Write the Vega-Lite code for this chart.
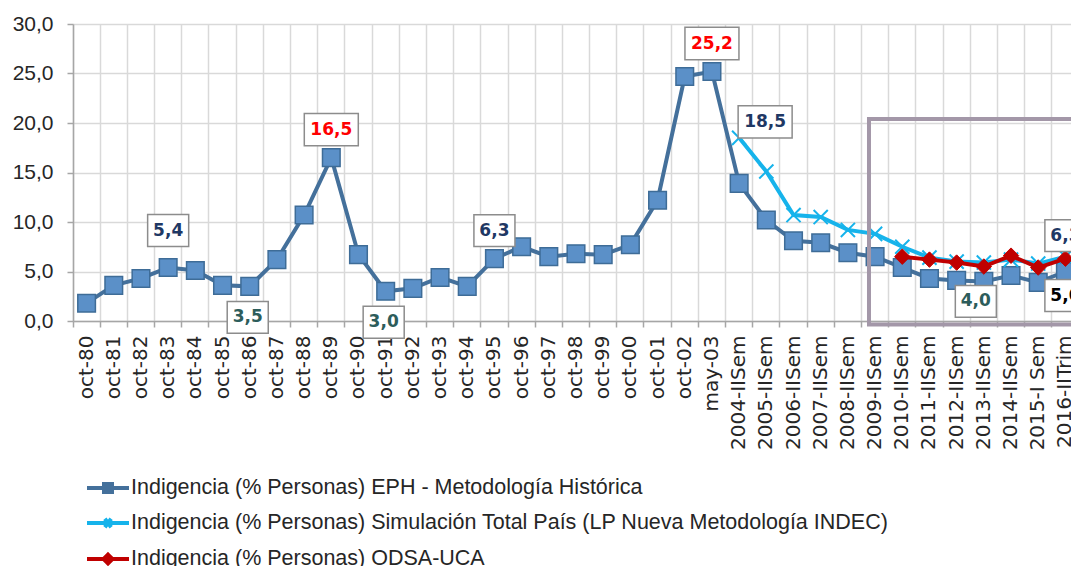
{
  "$schema": "https://vega.github.io/schema/vega-lite/v6.json",
  "width": 998,
  "height": 297,
  "autosize": {"type": "none"},
  "padding": {"left": 73, "top": 24, "right": 0, "bottom": 245},
  "config": {
    "view": {"stroke": null},
    "locale": {"number": {"decimal": ",", "thousands": ".", "grouping": [3], "currency": ["", " €"]}},
    "font": "Liberation Sans"
  },
  "datasets": {
    "ind": [
      {"cat": "oct-80", "serie": "EPH", "v": 1.8},
      {"cat": "oct-81", "serie": "EPH", "v": 3.6},
      {"cat": "oct-82", "serie": "EPH", "v": 4.3},
      {"cat": "oct-83", "serie": "EPH", "v": 5.4},
      {"cat": "oct-84", "serie": "EPH", "v": 5.1},
      {"cat": "oct-85", "serie": "EPH", "v": 3.6},
      {"cat": "oct-86", "serie": "EPH", "v": 3.5},
      {"cat": "oct-87", "serie": "EPH", "v": 6.2},
      {"cat": "oct-88", "serie": "EPH", "v": 10.7},
      {"cat": "oct-89", "serie": "EPH", "v": 16.5},
      {"cat": "oct-90", "serie": "EPH", "v": 6.7},
      {"cat": "oct-91", "serie": "EPH", "v": 3.0},
      {"cat": "oct-92", "serie": "EPH", "v": 3.3},
      {"cat": "oct-93", "serie": "EPH", "v": 4.4},
      {"cat": "oct-94", "serie": "EPH", "v": 3.5},
      {"cat": "oct-95", "serie": "EPH", "v": 6.3},
      {"cat": "oct-96", "serie": "EPH", "v": 7.5},
      {"cat": "oct-97", "serie": "EPH", "v": 6.5},
      {"cat": "oct-98", "serie": "EPH", "v": 6.8},
      {"cat": "oct-99", "serie": "EPH", "v": 6.7},
      {"cat": "oct-00", "serie": "EPH", "v": 7.7},
      {"cat": "oct-01", "serie": "EPH", "v": 12.2},
      {"cat": "oct-02", "serie": "EPH", "v": 24.7},
      {"cat": "may-03", "serie": "EPH", "v": 25.2},
      {"cat": "2004-IISem", "serie": "EPH", "v": 13.9},
      {"cat": "2005-IISem", "serie": "EPH", "v": 10.2},
      {"cat": "2006-IISem", "serie": "EPH", "v": 8.1},
      {"cat": "2007-IISem", "serie": "EPH", "v": 7.9},
      {"cat": "2008-IISem", "serie": "EPH", "v": 6.9},
      {"cat": "2009-IISem", "serie": "EPH", "v": 6.5},
      {"cat": "2010-IISem", "serie": "EPH", "v": 5.4},
      {"cat": "2011-IISem", "serie": "EPH", "v": 4.3},
      {"cat": "2012-IISem", "serie": "EPH", "v": 4.1},
      {"cat": "2013-IISem", "serie": "EPH", "v": 4.0},
      {"cat": "2014-IISem", "serie": "EPH", "v": 4.6},
      {"cat": "2015-I Sem", "serie": "EPH", "v": 3.9},
      {"cat": "2016-IITrim", "serie": "EPH", "v": 5.0},
      {"cat": "2004-IISem", "serie": "SIM", "v": 18.5},
      {"cat": "2005-IISem", "serie": "SIM", "v": 15.1},
      {"cat": "2006-IISem", "serie": "SIM", "v": 10.7},
      {"cat": "2007-IISem", "serie": "SIM", "v": 10.5},
      {"cat": "2008-IISem", "serie": "SIM", "v": 9.2},
      {"cat": "2009-IISem", "serie": "SIM", "v": 8.8},
      {"cat": "2010-IISem", "serie": "SIM", "v": 7.5},
      {"cat": "2011-IISem", "serie": "SIM", "v": 6.4},
      {"cat": "2012-IISem", "serie": "SIM", "v": 6.0},
      {"cat": "2013-IISem", "serie": "SIM", "v": 5.9},
      {"cat": "2014-IISem", "serie": "SIM", "v": 6.2},
      {"cat": "2015-I Sem", "serie": "SIM", "v": 5.8},
      {"cat": "2016-IITrim", "serie": "SIM", "v": 6.5},
      {"cat": "2010-IISem", "serie": "ODSA", "v": 6.5},
      {"cat": "2011-IISem", "serie": "ODSA", "v": 6.2},
      {"cat": "2012-IISem", "serie": "ODSA", "v": 5.9},
      {"cat": "2013-IISem", "serie": "ODSA", "v": 5.5},
      {"cat": "2014-IISem", "serie": "ODSA", "v": 6.6},
      {"cat": "2015-I Sem", "serie": "ODSA", "v": 5.4},
      {"cat": "2016-IITrim", "serie": "ODSA", "v": 6.3}
    ],
    "etiquetas": [
      {"cat": "oct-83", "serie": "EPH", "v": 5.4, "label": "5,4"},
      {"cat": "oct-86", "serie": "EPH", "v": 3.5, "label": "3,5"},
      {"cat": "oct-89", "serie": "EPH", "v": 16.5, "label": "16,5"},
      {"cat": "oct-91", "serie": "EPH", "v": 3.0, "label": "3,0"},
      {"cat": "oct-95", "serie": "EPH", "v": 6.3, "label": "6,3"},
      {"cat": "may-03", "serie": "EPH", "v": 25.2, "label": "25,2"},
      {"cat": "2004-IISem", "serie": "SIM", "v": 18.5, "label": "18,5"},
      {"cat": "2013-IISem", "serie": "EPH", "v": 4.0, "label": "4,0"},
      {"cat": "2016-IITrim", "serie": "ODSA", "v": 6.3, "label": "6,3"},
      {"cat": "2016-IITrim", "serie": "EPH", "v": 5.0, "label": "5,0"}
    ],
    "recuadro": [
      {"desde": "2009-IISem", "hasta": "2016-IITrim", "sup": 20.4, "inf": -0.35}
    ]
  },
  "layer": [
    {
      "data": {"name": "ind"},
      "transform": [{"filter": "datum.serie == 'EPH'"}],
      "mark": {"type": "line", "strokeWidth": 4},
      "encoding": {
        "x": {
          "field": "cat", "type": "nominal",
          "scale": {
            "domain": ["oct-80","oct-81","oct-82","oct-83","oct-84","oct-85","oct-86","oct-87","oct-88","oct-89","oct-90","oct-91","oct-92","oct-93","oct-94","oct-95","oct-96","oct-97","oct-98","oct-99","oct-00","oct-01","oct-02","may-03","2004-IISem","2005-IISem","2006-IISem","2007-IISem","2008-IISem","2009-IISem","2010-IISem","2011-IISem","2012-IISem","2013-IISem","2014-IISem","2015-I Sem","2016-IITrim"],
            "range": [0, 1006],
            "paddingInner": 0,
            "paddingOuter": 0
          },
          "axis": {
            "title": null,
            "bandPosition": 0,
            "labelOffset": 0,
            "labelAngle": -90,
            "labelFont": "DejaVu Sans",
            "labelFontSize": 20,
            "labelColor": "#262626",
            "labelPadding": 8,
            "labelOverlap": false,
            "labelBound": false,
            "tickSize": 6,
            "tickColor": "#a6a6a6",
            "tickWidth": 1.5,
            "domainColor": "#a6a6a6",
            "domainWidth": 1.5,
            "grid": true,
            "gridColor": "#d9d9d9",
            "gridWidth": 1.5
          }
        },
        "y": {
          "field": "v", "type": "quantitative",
          "scale": {"domain": [0, 30], "nice": false},
          "axis": {
            "title": null,
            "values": [0, 5, 10, 15, 20, 25, 30],
            "format": ".1f",
            "labelFont": "Liberation Sans",
            "labelFontSize": 21,
            "labelColor": "#262626",
            "labelPadding": 14,
            "tickSize": 6,
            "tickColor": "#a6a6a6",
            "tickWidth": 1.5,
            "domainColor": "#a6a6a6",
            "domainWidth": 1.5,
            "gridColor": "#d9d9d9",
            "gridWidth": 1.5
          }
        },
        "color": {
          "field": "serie", "type": "nominal",
          "scale": {"domain": ["EPH", "SIM", "ODSA"], "range": ["#44709b", "#16b3eb", "#c00000"]},
          "legend": {
            "orient": "none",
            "legendX": 12,
            "legendY": 441,
            "direction": "vertical",
            "title": null,
            "padding": 0,
            "labelFont": "Liberation Sans",
            "labelFontSize": 21.5,
            "labelColor": "#262626",
            "labelLimit": 1000,
            "labelOffset": 0,
            "symbolOffset": 0,
            "rowPadding": -12,
            "symbolSize": 1764,
            "symbolStrokeWidth": 4,
            "labelExpr": "datum.value == 'EPH' ? 'Indigencia (% Personas) EPH - Metodología Histórica' : datum.value == 'SIM' ? 'Indigencia (% Personas) Simulación Total País (LP Nueva Metodología INDEC)' : 'Indigencia (% Personas) ODSA-UCA'",
            "encode": {
              "symbols": {
                "update": {
                  "shape": {"signal": "datum.value == 'EPH' ? 'M-1,0H1M-0.19,-0.19H0.19V0.19H-0.19Z' : datum.value == 'SIM' ? 'M-1,0H1M-0.15,-0.2L0.15,0.2M-0.15,0.2L0.15,-0.2' : 'M-1,0H1M0,-0.21L0.21,0L0,0.21L-0.21,0Z'"},
                  "fill": {"signal": "datum.value == 'EPH' ? '#5b90c8' : datum.value == 'SIM' ? 'transparent' : '#c00000'"}
                }
              }
            }
          }
        }
      }
    },
    {
      "data": {"name": "ind"},
      "transform": [{"filter": "datum.serie == 'EPH'"}],
      "mark": {"type": "point", "shape": "square", "size": 310, "filled": true, "fill": "#5b90c8", "stroke": "#3e6c97", "strokeWidth": 1.5, "opacity": 1},
      "encoding": {
        "x": {"field": "cat", "type": "nominal"},
        "y": {"field": "v", "type": "quantitative"}
      }
    },
    {
      "data": {"name": "ind"},
      "transform": [{"filter": "datum.serie == 'SIM'"}],
      "mark": {"type": "line", "strokeWidth": 4},
      "encoding": {
        "x": {"field": "cat", "type": "nominal"},
        "y": {"field": "v", "type": "quantitative"},
        "color": {"field": "serie", "type": "nominal"}
      }
    },
    {
      "data": {"name": "ind"},
      "transform": [{"filter": "datum.serie == 'SIM'"}],
      "mark": {"type": "point", "shape": "M-1,-1L1,1M-1,1L1,-1", "size": 200, "filled": false, "stroke": "#16b3eb", "strokeWidth": 2, "opacity": 1},
      "encoding": {
        "x": {"field": "cat", "type": "nominal"},
        "y": {"field": "v", "type": "quantitative"}
      }
    },
    {
      "data": {"name": "ind"},
      "transform": [{"filter": "datum.serie == 'ODSA'"}],
      "mark": {"type": "line", "strokeWidth": 4},
      "encoding": {
        "x": {"field": "cat", "type": "nominal"},
        "y": {"field": "v", "type": "quantitative"},
        "color": {"field": "serie", "type": "nominal"}
      }
    },
    {
      "data": {"name": "ind"},
      "transform": [{"filter": "datum.serie == 'ODSA'"}],
      "mark": {"type": "point", "shape": "diamond", "size": 240, "filled": true, "fill": "#c00000", "stroke": "#c00000", "strokeWidth": 1, "opacity": 1},
      "encoding": {
        "x": {"field": "cat", "type": "nominal"},
        "y": {"field": "v", "type": "quantitative"}
      }
    },
    {
      "data": {"name": "recuadro"},
      "mark": {"type": "rect", "filled": false, "stroke": "#a397a8", "strokeWidth": 4, "xOffset": 7.5, "x2Offset": 27},
      "encoding": {
        "x": {"field": "desde", "type": "nominal", "bandPosition": 0},
        "x2": {"field": "hasta"},
        "y": {"field": "sup", "type": "quantitative"},
        "y2": {"field": "inf"}
      }
    },
    {
      "data": {"name": "etiquetas"},
      "transform": [{"filter": "datum.cat == 'oct-89' || datum.cat == 'oct-95' || datum.cat == 'may-03'"}],
      "mark": {"type": "point", "filled": true, "fill": "white", "stroke": "#8c8c8c", "strokeWidth": 1.5, "size": 2916, "opacity": 1, "yOffset": -28},
      "encoding": {
        "x": {"field": "cat", "type": "nominal"},
        "y": {"field": "v", "type": "quantitative"},
        "shape": {"condition": {"test": "length(datum.label) > 3", "value": "M-1,-0.6H1V0.6H-1Z"}, "value": "M-0.76,-0.59H0.76V0.59H-0.76Z"}
      }
    },
    {
      "data": {"name": "etiquetas"},
      "transform": [{"filter": "datum.cat == 'oct-89' || datum.cat == 'oct-95' || datum.cat == 'may-03'"}],
      "mark": {"type": "text", "font": "DejaVu Sans", "fontWeight": "bold", "fontSize": 17, "baseline": "middle", "align": "center", "yOffset": -28},
      "encoding": {
        "x": {"field": "cat", "type": "nominal"},
        "y": {"field": "v", "type": "quantitative"},
        "text": {"field": "label"},
        "color": {"condition": [{"test": "datum.label == '16,5' || datum.label == '25,2'", "value": "#ff0000"}], "value": "#1f3864"}
      }
    },
    {
      "data": {"name": "etiquetas"},
      "transform": [{"filter": "datum.cat == 'oct-83'"}],
      "mark": {"type": "point", "filled": true, "fill": "white", "stroke": "#8c8c8c", "strokeWidth": 1.5, "size": 2916, "opacity": 1, "yOffset": -37},
      "encoding": {
        "x": {"field": "cat", "type": "nominal"},
        "y": {"field": "v", "type": "quantitative"},
        "shape": {"condition": {"test": "length(datum.label) > 3", "value": "M-1,-0.6H1V0.6H-1Z"}, "value": "M-0.76,-0.59H0.76V0.59H-0.76Z"}
      }
    },
    {
      "data": {"name": "etiquetas"},
      "transform": [{"filter": "datum.cat == 'oct-83'"}],
      "mark": {"type": "text", "font": "DejaVu Sans", "fontWeight": "bold", "fontSize": 17, "baseline": "middle", "align": "center", "yOffset": -37},
      "encoding": {
        "x": {"field": "cat", "type": "nominal"},
        "y": {"field": "v", "type": "quantitative"},
        "text": {"field": "label"},
        "color": {"value": "#1f3864"}
      }
    },
    {
      "data": {"name": "etiquetas"},
      "transform": [{"filter": "datum.cat == 'oct-86' || datum.cat == 'oct-91'"}],
      "mark": {"type": "point", "filled": true, "fill": "white", "stroke": "#8c8c8c", "strokeWidth": 1.5, "size": 2916, "opacity": 1, "xOffset": -2, "yOffset": 31},
      "encoding": {
        "x": {"field": "cat", "type": "nominal"},
        "y": {"field": "v", "type": "quantitative"},
        "shape": {"condition": {"test": "length(datum.label) > 3", "value": "M-1,-0.6H1V0.6H-1Z"}, "value": "M-0.76,-0.59H0.76V0.59H-0.76Z"}
      }
    },
    {
      "data": {"name": "etiquetas"},
      "transform": [{"filter": "datum.cat == 'oct-86' || datum.cat == 'oct-91'"}],
      "mark": {"type": "text", "font": "DejaVu Sans", "fontWeight": "bold", "fontSize": 17, "baseline": "middle", "align": "center", "xOffset": -2, "yOffset": 31},
      "encoding": {
        "x": {"field": "cat", "type": "nominal"},
        "y": {"field": "v", "type": "quantitative"},
        "text": {"field": "label"},
        "color": {"value": "#2d5d5b"}
      }
    },
    {
      "data": {"name": "etiquetas"},
      "transform": [{"filter": "datum.cat == '2004-IISem'"}],
      "mark": {"type": "point", "filled": true, "fill": "white", "stroke": "#8c8c8c", "strokeWidth": 1.5, "size": 2916, "opacity": 1, "xOffset": 26, "yOffset": -16},
      "encoding": {
        "x": {"field": "cat", "type": "nominal"},
        "y": {"field": "v", "type": "quantitative"},
        "shape": {"condition": {"test": "length(datum.label) > 3", "value": "M-1,-0.6H1V0.6H-1Z"}, "value": "M-0.76,-0.59H0.76V0.59H-0.76Z"}
      }
    },
    {
      "data": {"name": "etiquetas"},
      "transform": [{"filter": "datum.cat == '2004-IISem'"}],
      "mark": {"type": "text", "font": "DejaVu Sans", "fontWeight": "bold", "fontSize": 17, "baseline": "middle", "align": "center", "xOffset": 26, "yOffset": -16},
      "encoding": {
        "x": {"field": "cat", "type": "nominal"},
        "y": {"field": "v", "type": "quantitative"},
        "text": {"field": "label"},
        "color": {"value": "#1f3864"}
      }
    },
    {
      "data": {"name": "etiquetas"},
      "transform": [{"filter": "datum.cat == '2013-IISem'"}],
      "mark": {"type": "point", "filled": true, "fill": "white", "stroke": "#8c8c8c", "strokeWidth": 1.5, "size": 2916, "opacity": 1, "xOffset": -8, "yOffset": 20},
      "encoding": {
        "x": {"field": "cat", "type": "nominal"},
        "y": {"field": "v", "type": "quantitative"},
        "shape": {"condition": {"test": "length(datum.label) > 3", "value": "M-1,-0.6H1V0.6H-1Z"}, "value": "M-0.76,-0.59H0.76V0.59H-0.76Z"}
      }
    },
    {
      "data": {"name": "etiquetas"},
      "transform": [{"filter": "datum.cat == '2013-IISem'"}],
      "mark": {"type": "text", "font": "DejaVu Sans", "fontWeight": "bold", "fontSize": 17, "baseline": "middle", "align": "center", "xOffset": -8, "yOffset": 20},
      "encoding": {
        "x": {"field": "cat", "type": "nominal"},
        "y": {"field": "v", "type": "quantitative"},
        "text": {"field": "label"},
        "color": {"value": "#2d5d5b"}
      }
    },
    {
      "data": {"name": "etiquetas"},
      "transform": [{"filter": "datum.cat == '2016-IITrim' && datum.serie == 'EPH'"}],
      "mark": {"type": "point", "filled": true, "fill": "white", "stroke": "#8c8c8c", "strokeWidth": 1.5, "size": 2916, "opacity": 1, "yOffset": 24},
      "encoding": {
        "x": {"field": "cat", "type": "nominal"},
        "y": {"field": "v", "type": "quantitative"},
        "shape": {"condition": {"test": "length(datum.label) > 3", "value": "M-1,-0.6H1V0.6H-1Z"}, "value": "M-0.76,-0.59H0.76V0.59H-0.76Z"}
      }
    },
    {
      "data": {"name": "etiquetas"},
      "transform": [{"filter": "datum.cat == '2016-IITrim' && datum.serie == 'EPH'"}],
      "mark": {"type": "text", "font": "DejaVu Sans", "fontWeight": "bold", "fontSize": 17, "baseline": "middle", "align": "center", "yOffset": 24},
      "encoding": {
        "x": {"field": "cat", "type": "nominal"},
        "y": {"field": "v", "type": "quantitative"},
        "text": {"field": "label"},
        "color": {"value": "#000000"}
      }
    },
    {
      "data": {"name": "etiquetas"},
      "transform": [{"filter": "datum.cat == '2016-IITrim' && datum.serie == 'ODSA'"}],
      "mark": {"type": "point", "filled": true, "fill": "white", "stroke": "#8c8c8c", "strokeWidth": 1.5, "size": 2916, "opacity": 1, "yOffset": -23},
      "encoding": {
        "x": {"field": "cat", "type": "nominal"},
        "y": {"field": "v", "type": "quantitative"},
        "shape": {"condition": {"test": "length(datum.label) > 3", "value": "M-1,-0.6H1V0.6H-1Z"}, "value": "M-0.76,-0.59H0.76V0.59H-0.76Z"}
      }
    },
    {
      "data": {"name": "etiquetas"},
      "transform": [{"filter": "datum.cat == '2016-IITrim' && datum.serie == 'ODSA'"}],
      "mark": {"type": "text", "font": "DejaVu Sans", "fontWeight": "bold", "fontSize": 17, "baseline": "middle", "align": "center", "yOffset": -23},
      "encoding": {
        "x": {"field": "cat", "type": "nominal"},
        "y": {"field": "v", "type": "quantitative"},
        "text": {"field": "label"},
        "color": {"value": "#1f3864"}
      }
    }
  ]
}
